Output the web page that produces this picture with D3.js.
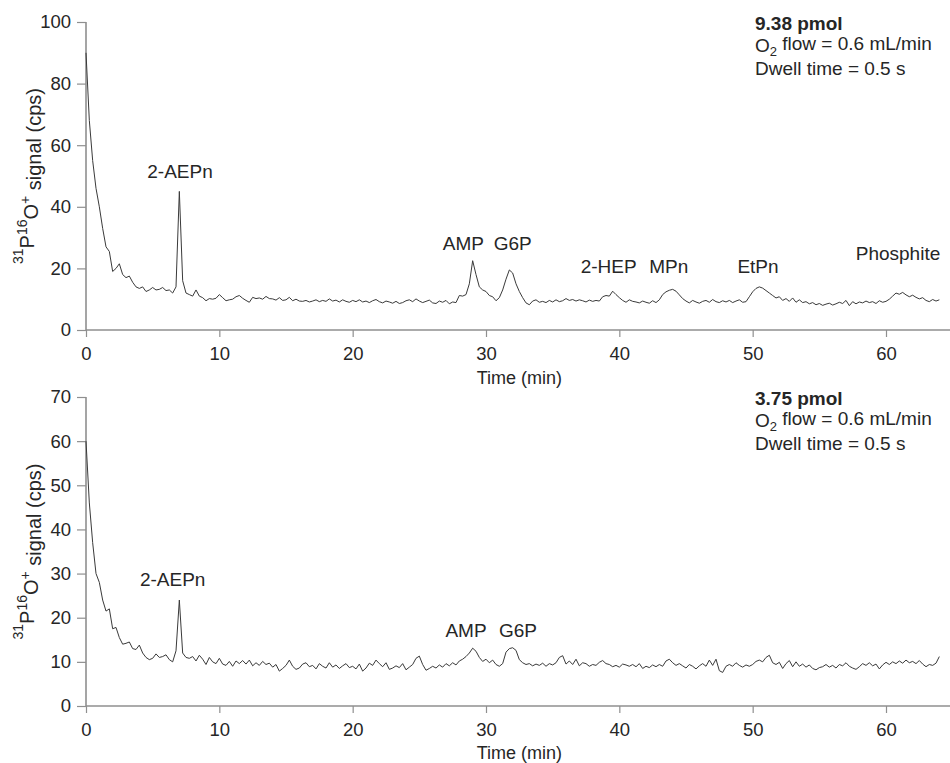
<!DOCTYPE html>
<html><head><meta charset="utf-8">
<script src="https://cdn.jsdelivr.net/npm/d3@7"></script>
<style>
html,body{margin:0;padding:0;background:#fff;}
text{font-family:"Liberation Sans",Arial,sans-serif;fill:#262626;}
</style></head>
<body>
<svg id="chart" width="950" height="763"></svg>
<script>
// ---- DATA ----
const timeMin = [0,0.25,0.5,0.75,1,1.25,1.5,1.75,2,2.25,2.5,2.75,3,3.25,3.5,3.75,4,4.25,4.5,4.75,5,5.25,5.5,5.75,6,6.25,6.5,6.75,7,7.25,7.5,7.75,8,8.25,8.5,8.75,9,9.25,9.5,9.75,10,10.25,10.5,10.75,11,11.25,11.5,11.75,12,12.25,12.5,12.75,13,13.25,13.5,13.75,14,14.25,14.5,14.75,15,15.25,15.5,15.75,16,16.25,16.5,16.75,17,17.25,17.5,17.75,18,18.25,18.5,18.75,19,19.25,19.5,19.75,20,20.25,20.5,20.75,21,21.25,21.5,21.75,22,22.25,22.5,22.75,23,23.25,23.5,23.75,24,24.25,24.5,24.75,25,25.25,25.5,25.75,26,26.25,26.5,26.75,27,27.25,27.5,27.75,28,28.25,28.5,28.75,29,29.25,29.5,29.75,30,30.25,30.5,30.75,31,31.25,31.5,31.75,32,32.25,32.5,32.75,33,33.25,33.5,33.75,34,34.25,34.5,34.75,35,35.25,35.5,35.75,36,36.25,36.5,36.75,37,37.25,37.5,37.75,38,38.25,38.5,38.75,39,39.25,39.5,39.75,40,40.25,40.5,40.75,41,41.25,41.5,41.75,42,42.25,42.5,42.75,43,43.25,43.5,43.75,44,44.25,44.5,44.75,45,45.25,45.5,45.75,46,46.25,46.5,46.75,47,47.25,47.5,47.75,48,48.25,48.5,48.75,49,49.25,49.5,49.75,50,50.25,50.5,50.75,51,51.25,51.5,51.75,52,52.25,52.5,52.75,53,53.25,53.5,53.75,54,54.25,54.5,54.75,55,55.25,55.5,55.75,56,56.25,56.5,56.75,57,57.25,57.5,57.75,58,58.25,58.5,58.75,59,59.25,59.5,59.75,60,60.25,60.5,60.75,61,61.25,61.5,61.75,62,62.25,62.5,62.75,63,63.25,63.5,63.75,64];

const signal938 = [90,68,55,46,40,33,27,25.5,19,20,21.5,18,17,17.5,15.5,14,13.5,14,12.5,13,13.8,13,13.2,13.8,12.8,13,12,14,45,16,12,11.5,11,13,11,10.5,9.5,10.2,10,10.3,11.5,10.5,9.5,9.8,10,10.8,11.2,10.3,9.6,9,10.6,10.2,10.4,10,10.9,10.2,10.1,9.7,10.5,9.6,9.8,10.6,9.5,10,9.4,9.3,9.6,9.1,9.4,9.8,9.2,9.6,9.3,10.1,9.4,9.7,9.1,9.8,9.3,9,9.6,9.2,9.8,9.1,9.4,8.9,9.5,9.9,9.2,8.8,9.4,9.1,8.7,9.3,8.6,8.9,9.5,9.8,9.2,10.1,9.4,8.9,9.3,9.7,8.8,8.6,9.4,9,9.6,8.5,9.1,8.9,11.2,11,11.5,15,22.5,18,14,13,12.5,11.2,10.8,9.5,10.5,13,16.5,19.5,18.5,15,12.5,10.5,8.8,8.2,9.4,9.8,9,9.3,8.9,9.6,9.1,9.8,9.2,9.5,10.2,9.6,9.9,9.4,9.8,9.5,9.1,9.7,9.3,9.6,9.4,10.8,11.2,11,12.6,11.5,10.5,9.6,9,9.8,9.3,9.1,8.8,9.4,9,8.7,9.5,8.9,9.8,11.5,12.4,12.9,13.2,12.6,11.4,10.2,9.4,8.8,9.6,9.1,8.7,9.3,9.6,9,9.9,9.2,8.9,9.5,9.1,9.6,8.9,9.4,9.8,9,9.2,10.8,12.4,13.5,14,13.6,12.8,12,11.2,10.4,10.8,9.6,10.2,9.3,10.4,9,9.8,8.9,9.2,8.5,8.9,8.2,8.6,8,8.4,8.7,8.1,8.5,9,8.6,9.6,7.9,9.2,8.5,9.1,8.8,9.4,8.9,9.2,8.6,9.5,9,9.3,10,11,12,11.6,12.2,11.4,10.8,11.3,10.6,10.1,10.5,9.6,9.2,9.9,9.4,9.8];

const signal375 = [60,46,37,30,28,24,21.5,22,17.5,17.8,15.5,14,14.2,14.5,13,12.8,13.8,12,11,10.5,10.8,11.8,11,11.2,11.6,10.5,10,12.5,24,12,11,10.8,11.2,10.2,11.5,10.6,9.4,11,10,9.6,10.8,9.5,9.2,10.1,9,10.2,9.6,10.3,9.5,10.4,9.1,9.8,9.2,10.1,9.4,9.7,8.8,9.4,7.9,8.5,9.2,10.4,9,8.3,8.6,9.5,9.8,8.9,9.2,8.4,9.6,9,8.6,9.8,8.8,9.3,8.5,9.1,9.6,8.7,9,8.4,9.5,7.9,8.6,9.7,9.2,10.4,9.6,8.9,9.8,8.3,8.6,9.1,8.7,9.6,8.2,8.8,9.4,10.8,11.3,9.4,8.1,8.5,9,8.6,9.3,8.8,9.6,9.1,9.8,9.3,10.2,10.6,11.2,12,13.1,12.4,11,10.1,10.6,9.8,10.4,9.4,9,9.6,12.2,13,13.2,12.6,10.5,9.8,9.4,9.6,9.1,9.5,9.2,9.7,9,9.6,9.3,9.8,11,11.4,9.5,10.2,9.4,10.6,9.1,9.8,9.6,9,9.4,9.2,9.9,10.3,9.6,9.4,8.9,9.2,8.8,9.5,9.3,9,9.4,8.9,9.6,8.5,9,8.7,9.3,8.9,9.4,9,10.2,10.6,9.8,9.2,9.6,9.1,8.6,9.4,9,8.4,9.1,9.6,9,10.4,9.2,10.6,8,7.6,9,9.4,9,9.8,9.2,8.8,9.3,9,9.4,10.1,10.4,10,11,11.5,9.8,9.4,9.9,8.5,9.6,10.3,8.9,10,9,9.5,8.8,9.3,8.5,8.2,8.7,8.9,9.4,8.8,9.2,8.6,9.4,9.1,9.8,9,8.6,8.3,8.9,9.6,9.2,9.8,9.1,9.5,8.4,9.3,9.9,9.4,10,9.6,10.2,9.7,10.4,9.8,10.1,9.6,10.3,9.5,8.9,9.4,9.2,9.7,11.2];

const xTicks = [0,10,20,30,40,50,60];
const yTicksTop = [0,20,40,60,80,100];
const yTicksBottom = [0,10,20,30,40,50,60,70];

const peakNamesTop = ["2-AEPn","AMP","G6P","2-HEP","MPn","EtPn","Phosphite"];
const peakTimesTop = [7.05,28.3,32.0,39.2,43.7,50.4,60.9];
const peakLabelCpsTop = [51.6,28.2,28.2,20.5,20.5,20.5,25];

const peakNamesBottom = ["2-AEPn","AMP","G6P"];
const peakTimesBottom = [6.5,28.5,32.4];
const peakLabelCpsBottom = [28.6,17.2,17.2];

const amountTop = "9.38 pmol";
const amountBottom = "3.75 pmol";
const conditionLines = ["flow = 0.6 mL/min","Dwell time = 0.5 s"];

// ---- DRAW ----
const svg = d3.select("#chart");
const axisColor = "#8f8f8f";
const x = d3.scaleLinear().domain([0,64.8]).range([86,950]);

function panel(values, yMax, yTicks, yRange, names, times, cps, amount, xLabelOffset){
  const y = d3.scaleLinear().domain([0,yMax]).range(yRange);
  const g = svg.append("g");
  const xa = g.append("g").attr("transform",`translate(0,${yRange[0]})`)
    .call(d3.axisBottom(x).tickValues(xTicks).tickSize(7).tickPadding(10).tickFormat(d3.format("d")));
  const ya = g.append("g").attr("transform",`translate(${x(0)},0)`)
    .call(d3.axisLeft(y).tickValues(yTicks).tickSize(9).tickPadding(6).tickFormat(d3.format("d")));
  [xa,ya].forEach(a=>{
    a.select(".domain").attr("stroke",axisColor).attr("stroke-width",1.6);
    a.selectAll(".tick line").attr("stroke",axisColor).attr("stroke-width",1.2);
    a.selectAll(".tick text").attr("font-size",18.5).attr("fill","#262626")
      .style("font-family","'Liberation Sans',Arial,sans-serif");
  });
  ya.select(".domain").attr("d",`M0,${yRange[0]}V${yRange[1]}`);
  xa.select(".domain").attr("d",`M${x(0)},0H950`);

  const line = d3.line().x((d,i)=>x(timeMin[i])).y(d=>y(d));
  g.append("path").datum(values).attr("d",line)
    .attr("fill","none").attr("stroke","#3a3a3a").attr("stroke-width",1)
    .attr("stroke-linejoin","round");

  g.selectAll(".pk").data(names).enter().append("text")
    .attr("x",(d,i)=>x(times[i])).attr("y",(d,i)=>y(cps[i])+6.5)
    .attr("text-anchor","middle").attr("font-size",19).text(d=>d);

  const midY = (yRange[0]+yRange[1])/2;
  const yl = g.append("text").attr("transform",`translate(31,${midY}) rotate(-90)`)
    .attr("text-anchor","middle").attr("font-size",20);
  yl.append("tspan").attr("font-size",14).attr("dy","-0.55em").text("31");
  yl.append("tspan").attr("dy","0.55em").text("P");
  yl.append("tspan").attr("font-size",14).attr("dy","-0.55em").text("16");
  yl.append("tspan").attr("dy","0.55em").text("O");
  yl.append("tspan").attr("font-size",14).attr("dy","-0.55em").text("+");
  yl.append("tspan").attr("dy","0.55em").text(" signal (cps)");

  g.append("text").attr("x",x(32.5)).attr("y",yRange[0]+xLabelOffset)
    .attr("text-anchor","middle").attr("font-size",18).text("Time (min)");

  const ax = 755, top = yRange[1];
  g.append("text").attr("x",ax).attr("y",top+8).attr("font-size",19)
    .attr("font-weight","bold").text(amount);
  const t2 = g.append("text").attr("x",ax).attr("y",top+30).attr("font-size",19);
  t2.append("tspan").text("O");
  t2.append("tspan").attr("font-size",13).attr("dy","0.3em").text("2");
  t2.append("tspan").attr("dy","-0.3em").text(" "+conditionLines[0]);
  g.append("text").attr("x",ax).attr("y",top+53).attr("font-size",19).text(conditionLines[1]);
}

panel(signal938,100,yTicksTop,[330,22],peakNamesTop,peakTimesTop,peakLabelCpsTop,amountTop,54);
panel(signal375,70,yTicksBottom,[706,397],peakNamesBottom,peakTimesBottom,peakLabelCpsBottom,amountBottom,52.5);
</script>
</body></html>
